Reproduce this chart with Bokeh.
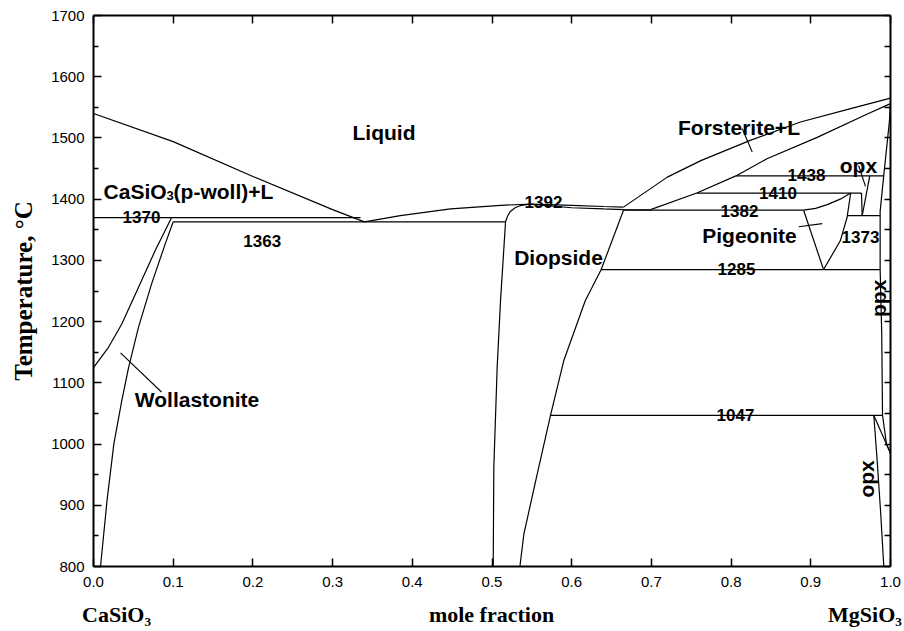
from math import pi

from bokeh.plotting import figure
from bokeh.models import (Range1d, LinearAxis, FixedTicker, Label,
                          NumeralTickFormatter, CustomJSTickFormatter)
from bokeh.embed import file_html
from bokeh.resources import INLINE

# ---- axes -------------------------------------------------------------
x_ticks = [0.0, 0.1, 0.2, 0.3, 0.4, 0.5, 0.6, 0.7, 0.8, 0.9, 1.0]
t_ticks = [800, 900, 1000, 1100, 1200, 1300, 1400, 1500, 1600, 1700]
t_minor = [850, 950, 1050, 1150, 1250, 1350, 1450, 1550, 1650]

# composition axis captions: end members and the axis quantity
caption_x = [0.0289, 0.4994, 0.968]
caption_text = ["CaSiO\u2083", "mole fraction", "MgSiO\u2083"]

# ---- phase boundaries (x = mole fraction MgSiO3, T in degC) -------------
wo_liq_x = [0.0, 0.10, 0.20, 0.30, 0.34]
wo_liq_t = [1540, 1494, 1437, 1383, 1363]

px_liq_x = [0.34, 0.385, 0.448, 0.511, 0.55, 0.60, 0.64, 0.665]
px_liq_t = [1363, 1373, 1384, 1390, 1392, 1390, 1388, 1387]

px_sol_x = [0.547, 0.60, 0.64, 0.665, 0.699]
px_sol_t = [1392, 1386, 1384, 1383, 1382.5]

fo_liq_x = [0.665, 0.72, 0.762, 0.824, 0.887, 0.95, 1.0]
fo_liq_t = [1387, 1436, 1463, 1496, 1526, 1548, 1565]

fo_low_x = [0.699, 0.757, 0.806, 0.845, 0.908, 0.971, 1.0]
fo_low_t = [1383, 1410, 1438, 1466, 1501, 1539, 1556]

pwo_wo_x = [0.098, 0.0774, 0.0565, 0.0355, 0.0188, 0.0]
pwo_wo_t = [1370, 1316, 1256, 1196, 1158, 1125]

wo_solvus_x = [0.100, 0.090, 0.073, 0.0565, 0.044, 0.0355, 0.0255, 0.017, 0.0088]
wo_solvus_t = [1363, 1327, 1262, 1191, 1125, 1071, 1000, 908, 800]

di_left_x = [0.5015, 0.5023, 0.5065, 0.5107, 0.517, 0.5195, 0.523, 0.529, 0.537, 0.547]
di_left_t = [800, 962, 1126, 1234, 1363, 1372, 1380, 1386, 1390, 1392]

di_right_x = [0.665, 0.637, 0.617, 0.590, 0.5734, 0.5567, 0.540, 0.535]
di_right_t = [1382, 1285, 1234, 1136, 1047, 951, 853, 800]

pig_left_x = [0.891, 0.916]
pig_left_t = [1382, 1285]
pig_top_x = [0.891, 0.906, 0.9206, 0.937, 0.95]
pig_top_t = [1382, 1385, 1391, 1400, 1410]
pig_right_x = [0.95, 0.9455, 0.937, 0.916]
pig_right_t = [1410, 1370, 1332, 1285]

opx_hi_a_x = [0.9636, 0.9645]
opx_hi_a_t = [1410, 1373]
opx_hi_b_x = [0.974, 0.9645]
opx_hi_b_t = [1438, 1373]

ppx_x = [1.0, 0.9987, 0.9915, 0.987, 0.987, 0.989, 0.990, 0.995, 1.0]
ppx_t = [1556, 1528, 1438, 1380, 1285, 1180, 1047, 1000, 985]

opx_lo_x = [0.979, 0.983, 0.9875, 0.9916]
opx_lo_t = [1047, 978, 891, 800]
opx_diag_x = [0.979, 1.0]
opx_diag_t = [1047, 985]

# invariant isotherms
iso_t = [1370, 1363, 1382, 1410, 1438, 1373, 1285, 1047]
iso_x0 = [0.0, 0.100, 0.665, 0.757, 0.806, 0.9455, 0.637, 0.5734]
iso_x1 = [0.335, 0.517, 0.891, 0.9636, 0.9915, 0.987, 0.987, 0.990]

# leader lines for region names
lead_x0 = [0.0339, 0.814, 0.8848, 0.960]
lead_t0 = [1149, 1515, 1355, 1455]
lead_x1 = [0.0853, 0.8265, 0.9143, 0.9686]
lead_t1 = [1085, 1477, 1360, 1421]

peak_t = 1392

SANS = "Liberation Sans"
SERIF = "Liberation Serif"

p = figure(width=904, height=631, output_backend="svg", toolbar_location=None,
           x_range=Range1d(0, 1), y_range=Range1d(800, 1700),
           x_axis_location=None, y_axis_location=None,
           min_border_left=93, min_border_right=14,
           min_border_top=15, min_border_bottom=65)
p.grid.visible = False
p.outline_line_color = None
p.background_fill_color = "white"
p.border_fill_color = "white"


def style_axis(ax, tick_len, minor_len, labels):
    ax.axis_line_width = 2
    ax.axis_line_color = "black"
    ax.major_tick_in = tick_len
    ax.major_tick_out = 0
    ax.minor_tick_in = minor_len
    ax.minor_tick_out = 0
    ax.major_tick_line_width = 1.5
    ax.minor_tick_line_width = 1.5
    ax.major_tick_line_color = "black"
    ax.minor_tick_line_color = "black"
    if labels:
        ax.major_label_text_font = SANS
        ax.major_label_text_font_size = "15px"
        ax.major_label_text_color = "black"
    else:
        ax.formatter = CustomJSTickFormatter(code="return ''")
        ax.major_label_standoff = 0
        ax.major_label_text_font_size = "1px"


left = LinearAxis(ticker=FixedTicker(ticks=t_ticks, minor_ticks=t_minor))
style_axis(left, 8, 5, True)
left.major_label_standoff = 9
left.axis_label = "Temperature, \u00b0C"
left.axis_label_text_font = SERIF
left.axis_label_text_font_size = "25px"
left.axis_label_text_font_style = "bold"
left.axis_label_text_color = "black"
left.axis_label_standoff = 11
p.add_layout(left, "left")

right = LinearAxis(ticker=FixedTicker(ticks=t_ticks, minor_ticks=t_minor))
style_axis(right, 6, 6, False)
p.add_layout(right, "right")

bottom = LinearAxis(ticker=FixedTicker(ticks=x_ticks),
                    formatter=NumeralTickFormatter(format="0.0"))
style_axis(bottom, 8, 0, True)
bottom.major_label_standoff = 10
p.add_layout(bottom, "below")

# second row under the tick labels carrying the axis captions
captions = LinearAxis(ticker=FixedTicker(ticks=caption_x),
                      formatter=CustomJSTickFormatter(args=dict(names=caption_text),
                                                      code="return names[index]"))
captions.axis_line_color = None
captions.major_tick_line_color = None
captions.minor_tick_line_color = None
captions.major_tick_in = 0
captions.major_tick_out = 0
captions.major_label_standoff = 12
captions.major_label_text_font = SERIF
captions.major_label_text_font_size = "22px"
captions.major_label_text_font_style = "bold"
captions.major_label_text_color = "black"
p.add_layout(captions, "below")

top = LinearAxis(ticker=FixedTicker(ticks=x_ticks))
style_axis(top, 8, 0, False)
p.add_layout(top, "above")

# boundary curves
LW = 1.2
for xs, ts in [(wo_liq_x, wo_liq_t), (px_liq_x, px_liq_t), (px_sol_x, px_sol_t),
               (fo_liq_x, fo_liq_t), (fo_low_x, fo_low_t), (pwo_wo_x, pwo_wo_t),
               (wo_solvus_x, wo_solvus_t), (di_left_x, di_left_t),
               (di_right_x, di_right_t), (pig_left_x, pig_left_t),
               (pig_top_x, pig_top_t), (pig_right_x, pig_right_t),
               (opx_hi_a_x, opx_hi_a_t), (opx_hi_b_x, opx_hi_b_t),
               (ppx_x, ppx_t), (opx_lo_x, opx_lo_t), (opx_diag_x, opx_diag_t)]:
    p.line(xs, ts, line_color="black", line_width=LW)

p.segment(x0=iso_x0, y0=iso_t, x1=iso_x1, y1=iso_t, line_color="black", line_width=1.3)
p.segment(x0=lead_x0, y0=lead_t0, x1=lead_x1, y1=lead_t1, line_color="black", line_width=1.1)


def label(text, x, y, size="21px", font=SANS, style="bold", align="center",
          baseline="alphabetic", angle=0.0):
    p.add_layout(Label(x=x, y=y, text=text, text_font=font, text_font_size=size,
                       text_font_style=style, text_color="black", text_align=align,
                       text_baseline=baseline, angle=angle))


# region names
label("Liquid", 0.3645, 1509)
label("Diopside", 0.5834, 1305)
label("Wollastonite", 0.1299, 1072)
label("Forsterite+L", 0.8099, 1517)
label("Pigeonite", 0.8231, 1341)
label("opx", 0.9598, 1455)
label("ppx", 0.985, 1238, baseline="middle", angle=pi / 2)
label("opx", 0.9705, 943, baseline="middle", angle=pi / 2)

# CaSiO3(p-woll)+L with a subscript
label("CaSiO", 0.0126, 1413, align="left")
label("3", 0.0916, 1406, size="13px", align="left")
label("(p-woll)+L", 0.1005, 1413, align="left")

# isotherm values
iso_label_pos = {1370: (0.0602, 1371), 1363: (0.2117, 1332), 1382: (0.8105, 1380),
                 1410: (0.8588, 1410), 1438: (0.8946, 1440), 1373: (0.9624, 1339),
                 1285: (0.8068, 1286), 1047: (0.8055, 1048)}
for t in iso_t:
    lx, ly = iso_label_pos[t]
    label(str(t), lx, ly, size="17px")
label(str(peak_t), 0.5646, 1396, size="17px")

open("out.html", "w").write(file_html(p, INLINE))
